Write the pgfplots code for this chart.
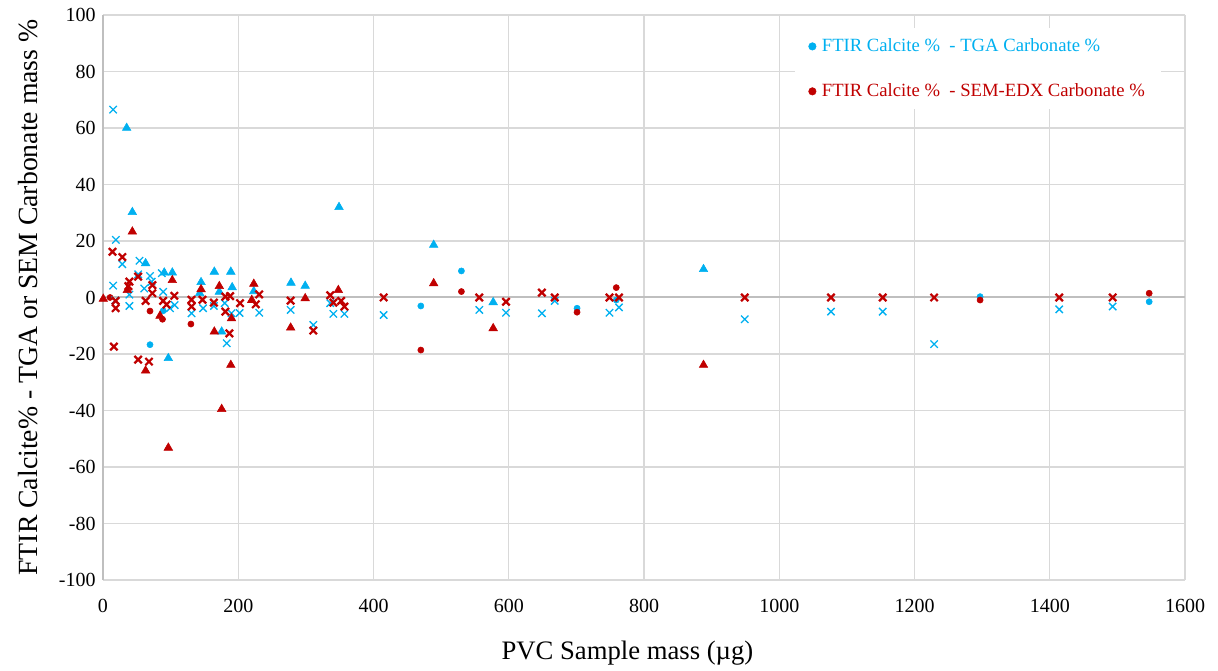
\documentclass[border=0pt]{standalone}
\usepackage{fontspec}
\setmainfont{Liberation Serif}
\usepackage{pgfplots}
\pgfplotsset{compat=1.18}
\definecolor{tgablue}{HTML}{00B0F0}
\definecolor{semred}{HTML}{C00000}
\definecolor{gridgray}{HTML}{D9D9D9}
\definecolor{zerogray}{HTML}{BFBFBF}

\begin{document}
\begin{tikzpicture}
\begin{axis}[
  name=ax,
  scale only axis,
  width=811.5pt, height=423.75pt,
  xmin=0, xmax=1600, ymin=-100, ymax=100,
  xtick={0,200,...,1600}, ytick={-100,-80,...,100},
  grid=major,
  major grid style={gridgray, line width=0.9pt},
  axis lines*=left,
  x axis line style={draw=none},
  y axis line style={zerogray, line width=1.5pt},
  major tick length=0pt,
  tick label style={font=\fontsize{15}{18}\selectfont},
  /pgf/number format/assume math mode=true,
  /pgf/number format/1000 sep={},
  xticklabel style={yshift=-11pt},
  yticklabel style={xshift=-2pt},
  extra y ticks={0}, extra y tick labels={},
  extra tick style={major grid style={zerogray, line width=1.5pt}},
  xlabel={PVC Sample mass (µg)},
  ylabel={FTIR Calcite\% - TGA or SEM Carbonate mass \%},
  xlabel style={font=\fontsize{20}{24}\selectfont, at={(axis description cs:0.4847,-0.13)}, anchor=center},
  ylabel style={font=\fontsize{20.8}{25}\selectfont, at={(axis description cs:-0.069,0.5)}, anchor=center},
  legend style={at={(axis description cs:0.6396,0.977)}, anchor=north west,
    draw=none, fill=white, font=\fontsize{14}{17}\selectfont,
    inner xsep=10pt, inner ysep=6pt, row sep=18.5pt},
  legend cell align=left,
  legend image code/.code={\draw[#1, mark size=2.8pt] plot coordinates {(0cm,0cm)};},
]

% circles: FTIR minus TGA
\addplot[only marks, mark=*, mark size=2.3pt, color=tgablue] coordinates {
 (69.5,-16.7) (89,-4.7) (470,-3) (530,9.4) (701,-3.8) (759,-0.9) (1297,0.3) (1547,-1.5)
};
\addlegendentry{\textcolor{tgablue}{\,FTIR Calcite \% \ - TGA Carbonate \%}}

% circles: FTIR minus SEM-EDX
\addplot[only marks, mark=*, mark size=2.3pt, color=semred] coordinates {
 (10.4,0) (69.5,-4.8) (88,-7.7) (130,-9.4) (470,-18.6) (530,2.1) (701,-5.2) (759,3.5) (1297,-0.9) (1547,1.5)
};
\addlegendentry{\textcolor{semred}{\,FTIR Calcite \% \ - SEM-EDX Carbonate \%}}

% triangles: FTIR minus TGA
\addplot[forget plot, only marks, mark=triangle*, mark size=3.7pt, color=tgablue] coordinates {
 (35,60) (43.4,30.2) (63,12.1) (90.6,8.8) (102.5,8.8) (145,5.4) (143,1.5) (164.6,9.1)
 (172,2) (189,9.1) (191,3.6) (175.5,-12.1) (96.6,-21.5) (223,2.2) (278,5.2) (299,4.1)
 (349,32) (489,18.6) (577,-1.7) (888,10)
};

% crosses: FTIR minus TGA
\addplot[forget plot, only marks, mark=x, mark size=3.9pt, color=tgablue, mark options={line width=1pt}] coordinates {
 (15,66.5) (19,20.4) (28.5,11.8) (54,13) (15,4.2) (39,1) (39,-3) (18,-1) (52,8.2)
 (69.5,7.6) (72,5.6) (61,3.2) (87,8.6) (89,2) (99,-3.8) (106,-2.7) (131,-5.6) (148,-3.8)
 (164,-3) (180,-2) (183,-16.2) (190,-5.6) (202,-5.5) (231,-5.4) (277.5,-4.4) (311,-9.7)
 (336,-2) (340.6,-5.8) (357,-5.8) (415,-6.2) (556.5,-4.4) (596,-5.4) (649,-5.6) (668,-1.2)
 (749,-5.4) (763,-3.5) (949,-7.7) (1076.5,-5) (1153,-5) (1229,-16.5) (1414,-4.2) (1493,-3.2)
};

% triangles: FTIR minus SEM-EDX
\addplot[forget plot, only marks, mark=triangle*, mark size=3.7pt, color=semred] coordinates {
 (0.4,-0.5) (36,2.6) (43.4,23.3) (102.5,6.1) (145,2.9) (172,4) (190,-7.4) (164.6,-12.1)
 (189,-23.9) (63,-25.9) (84.3,-6.5) (175.5,-39.5) (96.6,-53.2) (220,-0.9) (223,4.8)
 (277.5,-10.7) (299,-0.3) (348,2.6) (489,5) (577,-10.9) (888,-23.9)
};

% crosses: FTIR minus SEM-EDX
\addplot[forget plot, only marks, mark=x, mark size=3.9pt, color=semred, mark options={line width=1.7pt}] coordinates {
 (14,16.2) (28.5,14.3) (39,5.6) (37.5,4) (52,7.4) (73,4.4) (18.7,-1.2) (18.7,-3.8) (63,-1.2)
 (73,1.5) (89,-1.2) (94,-2.5) (105.5,0.6) (131,-0.8) (131,-3.2) (147,-0.8) (164,-1.8)
 (181,0.3) (188,0.5) (181,-5) (202.6,-2) (187,-12.7) (16,-17.4) (52,-22) (68,-22.7)
 (231,1.1) (226,-2.4) (277.5,-1.1) (311,-11.7) (336,0.8) (340.6,-1.8) (352,-1.2) (357,-3.2)
 (415,0) (556.5,0) (596,-1.5) (649,1.7) (668,0) (749,0) (763,0) (949,0) (1076.5,0)
 (1153,0) (1229,0) (1414,0) (1493,0)
};

\end{axis}
\path ([shift={(-77.25pt,-66pt)}]ax.south west) rectangle ([shift={(24.75pt,11.25pt)}]ax.north east);
\end{tikzpicture}
\end{document}
